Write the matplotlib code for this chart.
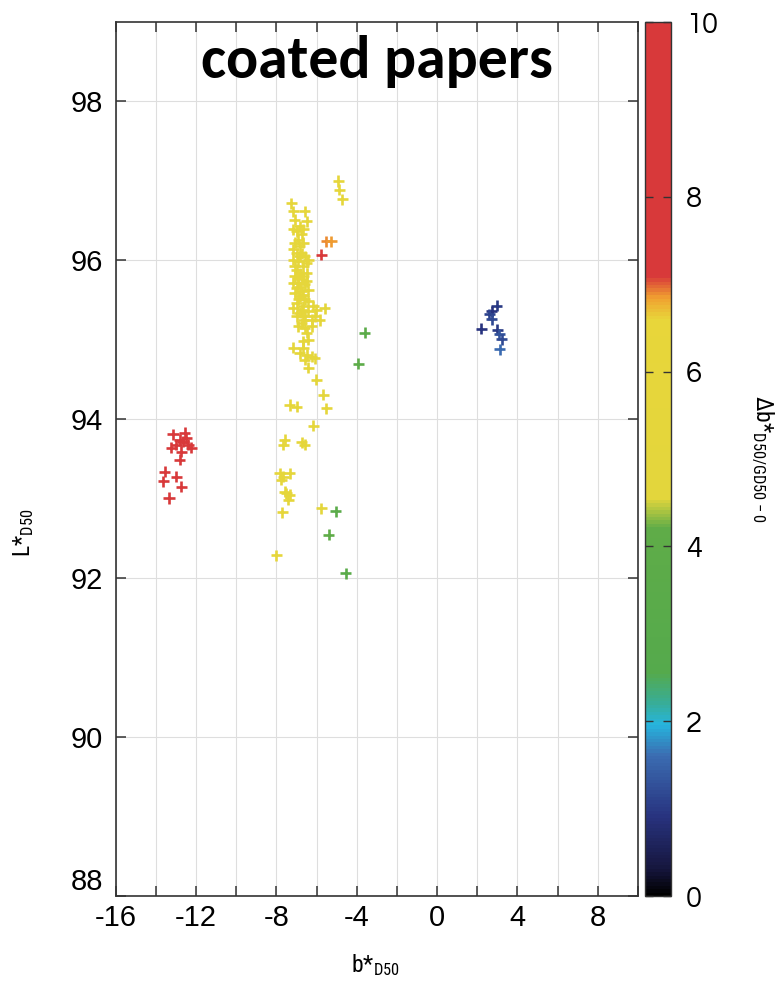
import numpy as np
import matplotlib
matplotlib.use("Agg")
from matplotlib import pyplot as plt
from matplotlib.colors import LinearSegmentedColormap

plt.rcParams['axes.unicode_minus'] = False

# measured points: b*D50, L*D50, delta b*
red_b = [-13.15, -12.56, -12.81, -12.65, -12.40, -12.24, -13.23, -12.73, -12.81,
         -13.56, -12.98, -13.64, -12.73, -13.35, -12.98, -12.49]
red_L = [93.81, 93.83, 93.74, 93.72, 93.68, 93.64, 93.64, 93.59, 93.49,
         93.34, 93.28, 93.22, 93.15, 93.01, 93.68, 93.76]
red_d = [8.6, 8.8, 8.4, 8.9, 8.5, 8.7, 8.6, 8.3, 8.8, 8.5, 7.4, 8.6, 8.2, 8.7, 8.5, 8.9]

yel_b = [-7.25, -7.17, -6.59, -6.50, -7.08, -6.84, -7.00, -6.67, -6.92, -6.84,
         -7.00, -6.75, -6.59, -7.17, -6.92, -6.42, -6.67, -7.00, -6.84, -6.50,
         -7.08, -6.75, -6.92, -6.59, -7.00, -6.75, -6.42, -6.84, -6.59, -7.00,
         -6.67, -6.17, -6.01, -5.59, -6.42, -6.84, -6.59, -6.09, -5.84, -6.25,
         -6.75, -6.25, -6.50, -7.17, -6.67, -6.84, -6.50, -6.25, -6.59, -6.09,
         -6.42, -6.01, -5.67, -7.33, -7.00, -5.51,
         -7.17, -6.75, -7.08, -6.67, -7.17, -6.84, -6.50, -7.08, -6.67, -6.92,
         -7.17, -6.50, -6.84, -7.08, -6.67, -6.92, -6.42, -7.17, -6.75, -7.00,
         -6.67, -6.92, -6.59, -6.42, -6.67,
         -4.93, -4.88, -4.72,
         -6.17, -7.58, -7.67, -6.75, -6.59, -7.83, -7.33, -7.75, -7.67, -7.58,
         -7.33, -7.42, -7.50, -7.70, -5.76, -8.00]
yel_L = [96.72, 96.62, 96.62, 96.49, 96.51, 96.43, 96.37, 96.39, 96.26, 96.18,
         96.09, 96.09, 96.05, 96.01, 95.99, 96.01, 95.93, 95.88, 95.84, 95.84,
         95.80, 95.76, 95.72, 95.70, 95.65, 95.61, 95.63, 95.55, 95.51, 95.46,
         95.42, 95.42, 95.38, 95.40, 95.36, 95.34, 95.30, 95.30, 95.25, 95.25,
         95.21, 95.17, 95.09, 94.90, 94.90, 94.83, 94.81, 94.79, 94.75, 94.77,
         94.65, 94.50, 94.31, 94.18, 94.16, 94.14,
         96.39, 96.33, 96.22, 96.22, 96.14, 96.05, 95.97, 95.93, 95.80, 95.78,
         95.72, 95.74, 95.67, 95.59, 95.57, 95.51, 95.49, 95.40, 95.38, 95.30,
         95.25, 95.17, 95.15, 95.00, 94.98,
         97.00, 96.89, 96.77,
         93.92, 93.74, 93.68, 93.71, 93.68, 93.32, 93.32, 93.24, 93.28, 93.09,
         93.05, 92.99, 93.07, 92.83, 92.88, 92.29]
yel_d = [5.6, 5.4, 5.8, 5.5, 5.9, 5.3, 5.7, 6.0, 5.5, 5.2,
         5.8, 5.6, 5.4, 6.1, 5.5, 5.7, 5.3, 5.9, 5.6, 5.4,
         5.8, 5.5, 6.0, 5.2, 5.7, 5.6, 5.3, 5.9, 5.5, 5.8,
         5.4, 5.1, 5.6, 5.0, 5.7, 6.0, 5.5, 5.2, 5.4, 5.8,
         5.6, 5.3, 5.7, 5.5, 5.9, 5.4, 5.6, 5.2, 5.8, 5.5,
         5.3, 5.1, 5.0, 5.6, 5.7, 5.4,
         5.5, 5.8, 5.6, 5.3, 5.9, 5.5, 5.7, 5.4, 5.6, 6.0,
         5.5, 5.2, 5.8, 5.6, 5.4, 5.7, 5.3, 5.9, 5.5, 5.6,
         5.8, 5.4, 5.6, 5.3, 5.5,
         5.6, 5.4, 5.2,
         5.3, 5.6, 5.5, 5.8, 5.4, 5.6, 5.5, 5.7, 5.3, 5.6,
         5.8, 5.4, 5.5, 5.6, 4.9, 5.6]

org_b = [-5.51, -5.26, -5.76]
org_L = [96.24, 96.24, 96.07]
org_d = [6.9, 6.85, 7.2]

grn_b = [-3.60, -3.93, -5.04, -5.39, -4.55]
grn_L = [95.09, 94.70, 92.84, 92.55, 92.06]
grn_d = [3.6, 3.9, 3.5, 4.2, 3.4]

blu_b = [2.96, 2.71, 2.59, 2.71, 2.21, 2.99, 3.09, 3.21, 3.12]
blu_L = [95.43, 95.36, 95.32, 95.26, 95.14, 95.13, 95.07, 95.01, 94.88]
blu_d = [1.0, 0.9, 1.1, 1.2, 0.9, 1.0, 1.3, 1.2, 1.6]

b_all = np.array(red_b + yel_b + org_b + grn_b + blu_b)
L_all = np.array(red_L + yel_L + org_L + grn_L + blu_L)
d_all = np.array(red_d + yel_d + org_d + grn_d + blu_d)

cmap_pos = [0.0, 0.03, 0.09, 0.16, 0.195, 0.22, 0.255, 0.42, 0.455, 0.66, 0.685, 0.71, 1.0]
cmap_col = ['#000000', '#16163e', '#28337f', '#3b6db2', '#26b5dd', '#38ad96',
            '#55aa4c', '#5fac48', '#e3d63c', '#e8d63a', '#f0a030', '#d8393a', '#d8393a']
cmap = LinearSegmentedColormap.from_list('coat', list(zip(cmap_pos, cmap_col)))

arial = ['Liberation Sans', 'Arimo', 'DejaVu Sans']
narrow = ['Liberation Sans Narrow', 'Roboto Condensed', 'Liberation Sans']
round_f = ['Questrial', 'Didact Gothic', 'DejaVu Sans']

fig = plt.figure(figsize=(7.77, 9.84), dpi=100)
ax = fig.add_axes([0.149, 0.0894, 0.672, 0.8882])
sc = ax.scatter(b_all, L_all, c=d_all, cmap=cmap, vmin=0, vmax=10,
                marker='+', s=64, linewidths=1.9, zorder=3)

ax.set_xlim(-16, 10)
ax.set_ylim(88, 99)
ax.set_xticks(np.arange(-16, 10, 4))
ax.set_xticks(np.arange(-16, 11, 2), minor=True)
ax.set_yticks(np.arange(88, 99, 2))
ax.grid(True, which='both', color='#dedede', linewidth=0.8, zorder=0)
ax.tick_params(which='both', direction='in', top=True, right=True,
               length=7, width=1.1, color='#333333', labelsize=21)
ax.tick_params(axis='y', pad=9)
ax.tick_params(axis='x', pad=6)
for lab in ax.get_xticklabels() + ax.get_yticklabels():
    lab.set_family(arial)
ax.get_yticklabels()[0].set_va('bottom')
for sp in ax.spines.values():
    sp.set_color('#333333')
    sp.set_linewidth(1.2)

ax.set_xlabel(r'b*$\mathregular{_{D50}}$', family=narrow, fontsize=17, va='center')
ax.xaxis.set_label_coords(0.498, -0.079)
ax.set_ylabel(r'L*$\mathregular{_{D50}}$', family=narrow, fontsize=17, va='center')
ax.yaxis.set_label_coords(-0.176, 0.416)

ax.text(0.5, 0.936, 'coated papers', transform=ax.transAxes, ha='center', va='baseline',
        family=['Carlito', 'Lato', 'DejaVu Sans'], fontweight='bold', fontsize=43, zorder=5)

cax = fig.add_axes([0.830, 0.0894, 0.0335, 0.8882])
cb = fig.colorbar(sc, cax=cax)
cb.set_ticks([0, 2, 4, 6, 8, 10])
cax.tick_params(direction='in', left=True, right=True, length=6, width=1.0,
                color='#333333', labelsize=21, pad=11)
for lab in cax.get_yticklabels():
    lab.set_family(round_f)
cb.outline.set_edgecolor('#333333')
cb.outline.set_linewidth(1.0)
cb.set_label('Δb*$\\mathregular{_{D50/GD50-0}}$', rotation=270,
             family=narrow, fontsize=17, va='center', ha='center')
cax.yaxis.set_label_coords(4.5, 0.5)

fig.savefig('out.png', dpi=100)
